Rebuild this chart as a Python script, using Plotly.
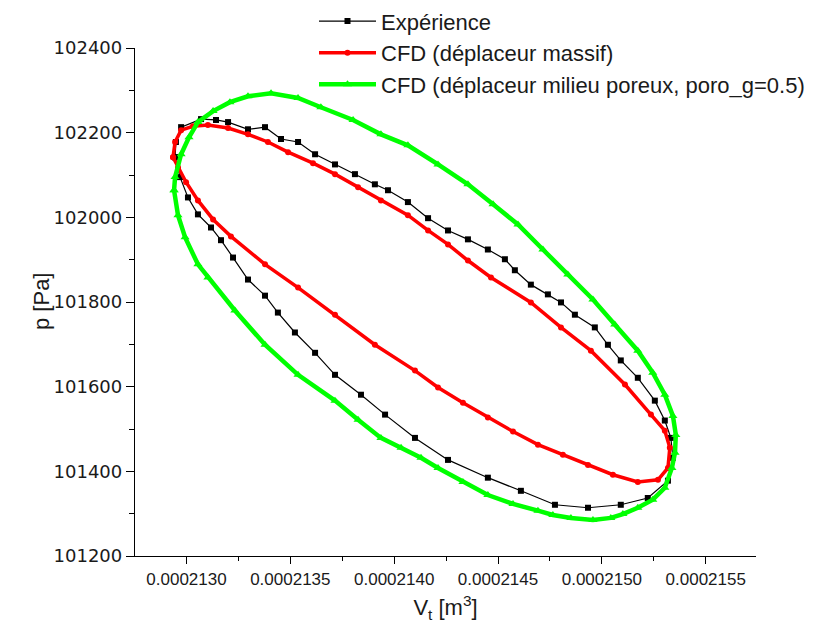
import numpy as np
import plotly.graph_objects as go

# Volume values in cm^3 (converted to m^3 below), pressure in Pa
v_exp_cm3 = [212.945, 212.949, 212.974, 213.070, 213.142, 213.200, 213.296, 213.378, 213.455, 213.537,
             213.619, 213.715, 213.811, 213.907, 213.970, 214.066, 214.163, 214.259, 214.355, 214.451,
             214.533, 214.581, 214.658, 214.740, 214.803, 214.870, 214.966, 215.029, 215.091, 215.173,
             215.255, 215.303, 215.332, 215.342, 215.318, 215.221, 215.091, 214.933, 214.774, 214.610,
             214.451, 214.259, 214.100, 213.956, 213.840, 213.715, 213.619, 213.522, 213.440, 213.378,
             213.296, 213.224, 213.166, 213.118, 213.055, 213.007, 212.969, 212.945]
p_exp = [102142, 102178, 102213, 102232, 102230, 102225, 102208, 102213, 102185, 102178,
         102149, 102125, 102102, 102078, 102064, 102036, 101998, 101969, 101948, 101924,
         101901, 101875, 101841, 101818, 101799, 101770, 101740, 101699, 101662, 101621,
         101567, 101520, 101479, 101432, 101378, 101337, 101321, 101314, 101321, 101354,
         101385, 101427, 101479, 101534, 101581, 101628, 101680, 101728, 101775, 101815,
         101853, 101905, 101946, 101976, 102007, 102047, 102095, 102142]

v_massif_cm3 = [212.935, 212.945, 212.974, 213.031, 213.103, 213.200, 213.296, 213.392, 213.489, 213.609,
                213.715, 213.826, 213.936, 214.066, 214.163, 214.259, 214.355, 214.466, 214.658, 214.803,
                214.947, 215.111, 215.236, 215.303, 215.327, 215.318, 215.270, 215.173, 215.053, 214.933,
                214.812, 214.692, 214.572, 214.451, 214.331, 214.211, 214.100, 213.907, 213.715, 213.537,
                213.378, 213.214, 213.128, 213.055, 212.998, 212.959, 212.935]
p_massif = [102142, 102178, 102206, 102215, 102218, 102211, 102196, 102178, 102154, 102128,
            102102, 102071, 102040, 102005, 101969, 101936, 101898, 101858, 101799, 101740,
            101685, 101605, 101534, 101496, 101456, 101408, 101380, 101375, 101392, 101415,
            101439, 101463, 101494, 101527, 101562, 101598, 101638, 101699, 101770, 101834,
            101889, 101955, 101995, 102040, 102083, 102118, 102142]

v_poreux_cm3 = [212.940, 212.945, 212.974, 213.012, 213.055, 213.128, 213.209, 213.296, 213.407, 213.537,
                213.647, 213.802, 213.936, 214.066, 214.211, 214.355, 214.476, 214.596, 214.716, 214.836,
                214.957, 215.062, 215.173, 215.245, 215.303, 215.342, 215.356, 215.352, 215.337, 215.303,
                215.245, 215.173, 215.101, 215.043, 214.957, 214.851, 214.764, 214.692, 214.572, 214.451,
                214.331, 214.211, 214.129, 214.033, 213.936, 213.826, 213.715, 213.537, 213.378, 213.233,
                213.103, 213.055, 212.993, 212.959, 212.940]
p_poreux = [102064, 102095, 102149, 102189, 102225, 102251, 102272, 102286, 102293, 102282,
            102260, 102230, 102196, 102170, 102125, 102078, 102031, 101983, 101924, 101865,
            101806, 101747, 101685, 101633, 101581, 101531, 101486, 101444, 101408, 101361,
            101333, 101314, 101299, 101290, 101285, 101290, 101297, 101307, 101323, 101344,
            101375, 101408, 101432, 101456, 101479, 101522, 101567, 101628, 101699, 101780,
            101858, 101889, 101953, 102005, 102064]

names = ["Expérience", "CFD (déplaceur massif)", "CFD (déplaceur milieu poreux, poro_g=0.5)"]
x_tickvals = [0.0002130, 0.0002135, 0.0002140, 0.0002145, 0.0002150, 0.0002155]
x_ticktext = ["0.0002130", "0.0002135", "0.0002140", "0.0002145", "0.0002150", "0.0002155"]
y_tickvals = [101200, 101400, 101600, 101800, 102000, 102200, 102400]
y_ticktext = ["101200", "101400", "101600", "101800", "102000", "102200", "102400"]

CM3 = 1e-6
FONT = "Arial, Liberation Sans, sans-serif"
TXT = "#1a1a1a"

fig = go.Figure()
fig.add_trace(go.Scatter(
    x=np.array(v_exp_cm3) * CM3, y=p_exp, name=names[0], mode="lines+markers",
    line=dict(color="black", width=1.2),
    marker=dict(symbol="square", size=6, color="black")))
fig.add_trace(go.Scatter(
    x=np.array(v_massif_cm3) * CM3, y=p_massif, name=names[1], mode="lines+markers",
    line=dict(color="#ff0000", width=3.5),
    marker=dict(symbol="circle", size=6, color="#ff0000")))
fig.add_trace(go.Scatter(
    x=np.array(v_poreux_cm3) * CM3, y=p_poreux, name=names[2], mode="lines+markers",
    line=dict(color="#00ff00", width=4.5),
    marker=dict(symbol="triangle-up", size=8, color="#00ff00")))

fig.update_layout(
    width=837, height=630,
    margin=dict(l=127, r=89, t=40, b=82, autoexpand=False),
    plot_bgcolor="white", paper_bgcolor="white",
    font=dict(family=FONT, color=TXT),
    showlegend=True,
    legend=dict(
        x=(306 - 127) / 621, y=1.094, xanchor="left", yanchor="top",
        font=dict(size=22, family=FONT, color=TXT),
        bgcolor="rgba(0,0,0,0)", itemwidth=57, tracegroupgap=0,
    ),
    xaxis=dict(
        range=[2.12752e-4, 2.15742e-4],
        tickvals=x_tickvals, ticktext=x_ticktext,
        ticks="outside", ticklen=7, tickwidth=1.2, tickcolor="black",
        minor=dict(ticks="outside", ticklen=4, tickwidth=1.2, tickcolor="black", dtick=2.5e-7, tick0=0.0002130),
        showline=True, linecolor="black", linewidth=1.3, mirror=False,
        showgrid=False, zeroline=False,
        tickfont=dict(size=17, family=FONT, color=TXT),
        title=dict(text="V<sub>t</sub> [m<sup>3</sup>]", font=dict(size=22, family=FONT, color=TXT), standoff=12),
    ),
    yaxis=dict(
        range=[101200, 102400],
        tickvals=y_tickvals, ticktext=y_ticktext,
        ticks="outside", ticklen=8, tickwidth=1.2, tickcolor="black",
        minor=dict(ticks="outside", ticklen=5, tickwidth=1.2, tickcolor="black", dtick=100, tick0=101200),
        showline=True, linecolor="black", linewidth=1.3, mirror=False,
        showgrid=False, zeroline=False,
        tickfont=dict(size=18, family="DejaVu Sans, sans-serif", color=TXT),
    ),
    annotations=[dict(
        text="p [Pa]", textangle=-90, showarrow=False,
        xref="paper", yref="paper", x=(33 - 127) / 621, y=0.5,
        xanchor="center", yanchor="middle",
        font=dict(size=22, family=FONT, color=TXT),
    )],
)

fig.write_html("out.html")
